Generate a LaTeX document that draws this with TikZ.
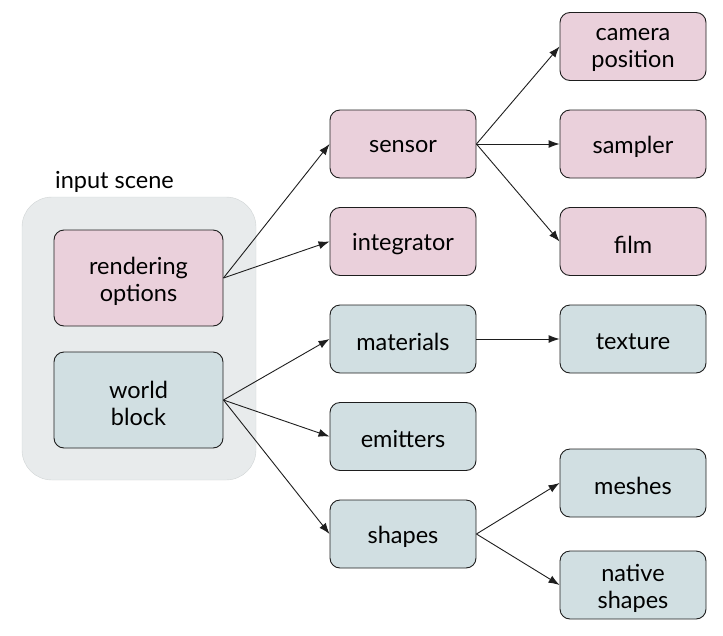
\documentclass[tikz,border=0pt]{standalone}
\usepackage{fontspec}
\setmainfont{Lato}
\usetikzlibrary{arrows.meta}
\definecolor{pinkfill}{RGB}{234,208,219}
\definecolor{bluefill}{RGB}{209,223,226}
\definecolor{groupfill}{RGB}{232,235,236}
\definecolor{groupline}{RGB}{208,212,213}
\definecolor{edgecol}{RGB}{30,30,30}
\begin{document}
\begin{tikzpicture}[x=1pt,y=-1pt,
  txt/.style={font=\fontsize{23.5}{27}\selectfont},
  box/.style={draw=edgecol, line width=0.9pt, rounded corners=10pt, minimum width=146pt, minimum height=68pt, inner sep=0pt},
  t/.style={label={[txt, align=center, inner sep=0pt, yshift=-3pt]center:#1}},
  bigbox/.style={box, minimum width=169pt, minimum height=96pt},
  pinkbox/.style={fill=pinkfill},
  bluebox/.style={fill=bluefill},
  conn/.style={draw=edgecol, line width=0.9pt, -{Latex[length=11pt,width=8pt]}}]
\useasboundingbox (0,0) rectangle (723,635);
% group
\node[draw=groupline, fill=groupfill, rounded corners=30pt, minimum width=234pt, minimum height=283pt, inner sep=0pt] (grp) at (139,338.5) {};
\node[txt, anchor=base west, inner sep=0pt] (grplabel) at (55,188) {input scene};
% left nodes
\node[bigbox, pinkbox, t={rendering\\options}] (ro) at (138.5,278) {};
\node[bigbox, bluebox, t={world\\block}] (wb) at (138.5,400) {};
% column 1
\node[box, pinkbox, t=sensor] (sensor) at (403,144) {};
\node[box, pinkbox, t=integrator] (integ) at (403,241.5) {};
\node[box, bluebox, t=materials] (mat) at (403,339) {};
\node[box, bluebox, t=emitters] (emit) at (403,436.5) {};
\node[box, bluebox, t=shapes] (shapes) at (403,534) {};
% column 2
\node[box, pinkbox, t={camera\\position}] (cam) at (633,46.5) {};
\node[box, pinkbox, t=sampler] (samp) at (633,144) {};
\node[box, pinkbox, t=film] (film) at (633,241.5) {};
\node[box, bluebox, t=texture] (tex) at (633,339) {};
\node[box, bluebox, t=meshes] (mesh) at (633,483) {};
\node[box, bluebox, t={native\\shapes}] (nat) at (633,585) {};
% connectors
\draw[conn] (ro.east) -- (sensor.west);
\draw[conn] (ro.east) -- (integ.west);
\draw[conn] (wb.east) -- (mat.west);
\draw[conn] (wb.east) -- (emit.west);
\draw[conn] (wb.east) -- (shapes.west);
\draw[conn] (sensor.east) -- (cam.west);
\draw[conn] (sensor.east) -- (samp.west);
\draw[conn] (sensor.east) -- (film.west);
\draw[conn] (mat.east) -- (tex.west);
\draw[conn] (shapes.east) -- (mesh.west);
\draw[conn] (shapes.east) -- (nat.west);
\end{tikzpicture}
\end{document}
